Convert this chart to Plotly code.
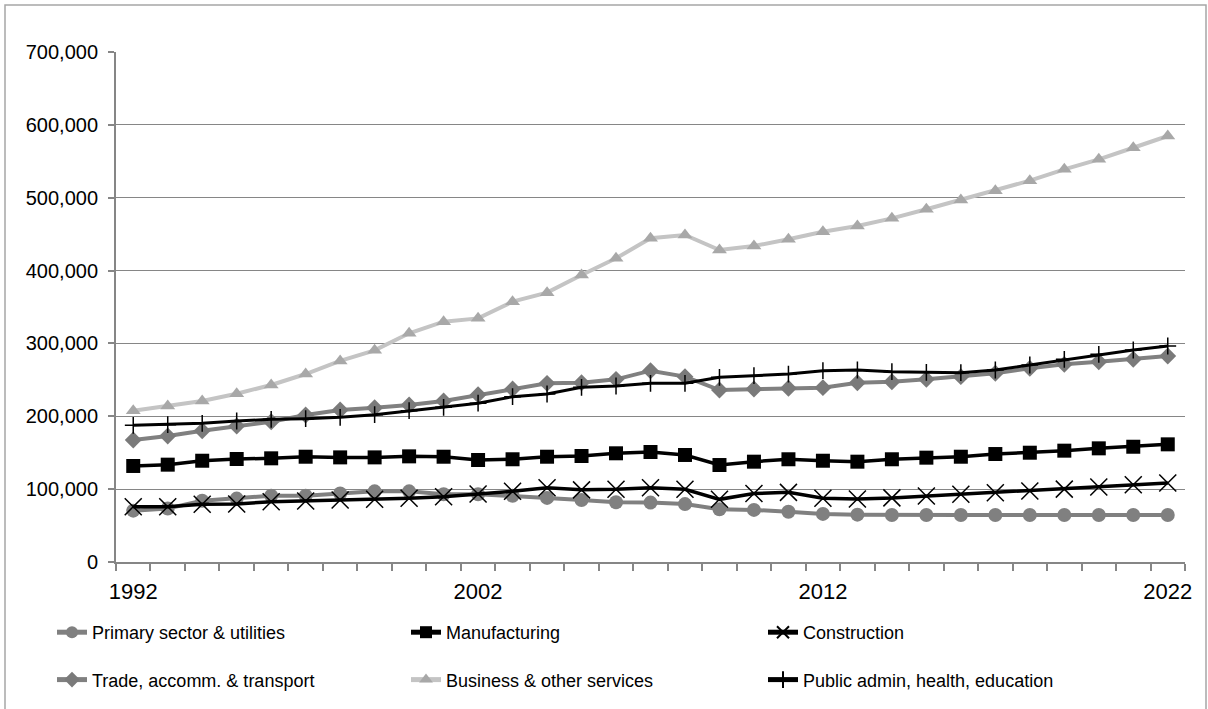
import plotly.graph_objects as go

years = list(range(1992, 2023))

primary_sector = [70.5, 73.5, 84, 87, 91, 91, 94, 97, 97, 93, 93, 91, 88, 85, 82, 81.5, 79.5, 72.5, 71.5, 69, 66, 65, 64.5, 64.5, 64.5, 64.5, 64.5, 64.5, 64.5, 64.5, 64.5]
manufacturing = [131.8, 133.6, 139, 141.4, 142.3, 144.5, 143.6, 143.6, 145, 144.5, 140, 141, 144.5, 145.5, 149.2, 151, 146.9, 133.1, 137.7, 141, 139, 137.7, 141, 143.2, 144.5, 148.2, 150, 152.8, 156, 158.2, 161.5]
construction = [75.9, 75.9, 79.2, 79.6, 82.8, 83.7, 85, 86, 87.4, 89.6, 93.3, 97, 102, 99, 99.8, 102, 99.8, 86, 94, 95.6, 87.4, 86.5, 88, 90.5, 93, 95, 97.5, 100, 103, 106, 108.5]
trade_transport = [167.4, 172.9, 180.2, 186.7, 192.6, 201.8, 208.6, 211.8, 215.5, 221, 229.5, 237.4, 245.2, 246.1, 250.7, 262.6, 254.4, 236, 237.4, 238.4, 239.3, 246.1, 247.5, 250.7, 254.4, 259, 265.8, 271.3, 274.9, 278.2, 282.7]
business_services = [207.7, 214, 221, 231, 243, 258, 276, 290.5, 313.9, 329.8, 334.4, 357.3, 369.7, 393.9, 416.8, 444.3, 448.8, 428.2, 433.7, 442.9, 453.3, 461.2, 471.7, 484.1, 496.8, 509.6, 523.4, 539, 552.7, 568.6, 584.7]
public_admin = [187.6, 188.5, 190.3, 193.5, 195.8, 196.7, 198.6, 202.2, 207.7, 212.3, 218, 226.9, 230.6, 239.8, 241.6, 245.2, 245.2, 253.5, 255.7, 258, 262.6, 263.5, 261.2, 260.4, 259.9, 263.5, 270.4, 278.2, 285, 291, 296.5]

year_labels = [1992, 2002, 2012, 2022]
y_ticks = [0, 100000, 200000, 300000, 400000, 500000, 600000, 700000]

FONT = "Arial, Liberation Sans, sans-serif"
GRID = "#868686"


def thousands(values):
    return [v * 1000 for v in values]


# each legend column holds two entries (top row, bottom row)
series = [
    dict(name="Primary sector & utilities", y=primary_sector, line=dict(color="#808080", width=4),
         marker=dict(symbol="circle", size=14, color="#808080"), legend="legend"),
    dict(name="Manufacturing", y=manufacturing, line=dict(color="#000000", width=3.5),
         marker=dict(symbol="square", size=14, color="#000000"), legend="legend2"),
    dict(name="Construction", y=construction, line=dict(color="#000000", width=3.5),
         marker=dict(symbol="x-thin-open", size=17, color="#000000", line=dict(width=1.5, color="#000000")),
         legend="legend3"),
    dict(name="Trade, accomm. & transport", y=trade_transport, line=dict(color="#808080", width=4),
         marker=dict(symbol="diamond", size=13, color="#7a7a7a"), legend="legend"),
    dict(name="Business & other services", y=business_services, line=dict(color="#c4c4c4", width=4),
         marker=dict(symbol="triangle-up", size=13, color="#a8a8a8"), legend="legend2"),
    dict(name="Public admin, health, education", y=public_admin, line=dict(color="#000000", width=3),
         marker=dict(symbol="cross-thin-open", size=12, color="#000000", line=dict(width=1.5, color="#000000")),
         legend="legend3"),
]

fig = go.Figure()
for i, s in enumerate(series):
    fig.add_trace(go.Scatter(
        x=years, y=thousands(s["y"]), name=s["name"], mode="lines+markers",
        line=s["line"], marker=s["marker"], legend=s["legend"], legendgroup=f"g{i}",
    ))

# invisible trace carrying the labelled year axis
fig.add_trace(go.Scatter(x=years, y=[None] * len(years), xaxis="x2", showlegend=False, hoverinfo="skip"))

W, H = 1208, 709
ML, MR, MT, MB = 116, 23, 52, 147
pw, ph = W - ML - MR, H - MT - MB


def px_x(p):
    return (p - ML) / pw


def px_y(p):
    return (H - MB - p) / ph


legend_common = dict(
    orientation="v", tracegroupgap=21, itemsizing="constant",
    font=dict(family=FONT, size=18, color="#000000"),
    bgcolor="rgba(0,0,0,0)", xanchor="left", yanchor="top",
    itemclick=False, itemdoubleclick=False,
)
legend_top = px_y(614)

fig.update_layout(
    width=W, height=H,
    margin=dict(l=ML, r=MR, t=MT, b=MB, autoexpand=False),
    paper_bgcolor="white", plot_bgcolor="white",
    font=dict(family=FONT, color="#000000"),
    showlegend=True,
    legend=dict(legend_common, x=px_x(52), y=legend_top),
    legend2=dict(legend_common, x=px_x(406), y=legend_top),
    legend3=dict(legend_common, x=px_x(763), y=legend_top),
    xaxis=dict(
        range=[1991.5, 2022.5], tick0=1991.5, dtick=1, ticks="outside", ticklen=7,
        tickcolor=GRID, tickwidth=1.5, showticklabels=False, showgrid=False,
        showline=True, linecolor=GRID, linewidth=2, zeroline=False,
    ),
    xaxis2=dict(
        overlaying="x", side="bottom", range=[1991.5, 2022.5],
        tickmode="array", tickvals=year_labels, ticktext=[str(y) for y in year_labels],
        ticks="", showgrid=False, showline=False, zeroline=False,
        tickfont=dict(family=FONT, size=22, color="#000000"), ticklabelstandoff=14,
    ),
    yaxis=dict(
        range=[0, 700000], tickmode="array", tickvals=y_ticks, tickformat=",d",
        ticks="outside", ticklen=6, tickcolor=GRID, tickwidth=1.5,
        showgrid=True, gridcolor=GRID, gridwidth=1.4,
        showline=True, linecolor=GRID, linewidth=2, zeroline=False,
        tickfont=dict(family=FONT, size=20, color="#000000"), ticklabelstandoff=6,
    ),
    shapes=[dict(
        type="rect", xref="paper", yref="paper",
        x0=px_x(5), x1=px_x(1206), y0=px_y(714), y1=px_y(5),
        line=dict(color="#a6a6a6", width=1.5), fillcolor="rgba(0,0,0,0)", layer="below",
    )],
)

fig.write_html("out.html")
